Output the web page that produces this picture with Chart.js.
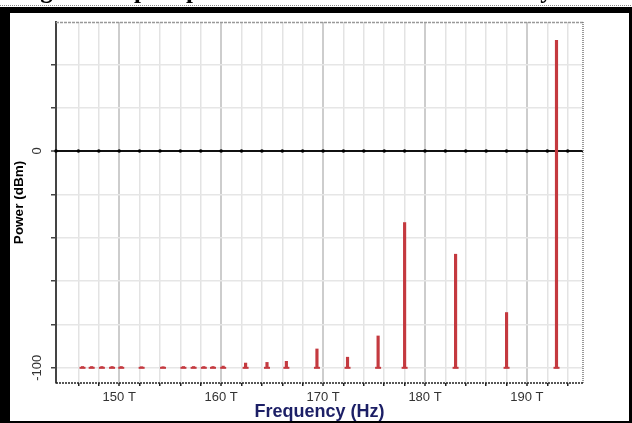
<!DOCTYPE html>
<html>
<head>
<meta charset="utf-8">
<script src="https://cdn.jsdelivr.net/npm/chart.js@4.4.0/dist/chart.umd.min.js"></script>
<style>
  html, body { margin: 0; padding: 0; background: #fff; }
  #wrap { width: 632px; height: 423px; }
</style>
</head>
<body>
<div id="wrap"><canvas id="spectrum" width="632" height="423"></canvas></div>
<script>
// channel / mixing product frequencies (THz) and their power (dBm)
const freqs = [146.4, 147.3, 148.3, 149.3, 150.2, 152.2, 154.3, 156.3, 157.3, 158.3, 159.2,
  160.2, 162.4, 164.5, 166.4, 169.4, 172.4, 175.4, 178.0, 183.0, 188.0, 192.9];
const power = [-99.4, -99.4, -99.4, -99.4, -99.4, -99.5, -99.5, -99.4, -99.4, -99.4, -99.4,
  -99.2, -97.8, -97.5, -97.0, -91.3, -95.1, -85.3, -33.0, -47.6, -74.5, 51.1];
const floorLevel = -100;

const gridFreqs = [146, 148, 150, 152, 154, 156, 158, 160, 162, 164, 166, 168, 170,
  172, 174, 176, 178, 180, 182, 184, 186, 188, 190, 192, 194];
const labelFreqs = [150, 160, 170, 180, 190];
const powerTicks = [-100, -80, -60, -40, -20, 0, 20, 40];
const powerLabels = [-100, 0];

const captionText = "Fig. 7: Output spectrum of the 8 channel WDM system";

const red = "#c4393f";

const framePlugin = {
  id: "frame",
  beforeDraw(chart) {
    const ctx = chart.ctx;
    ctx.save();
    ctx.fillStyle = "#fff";
    ctx.fillRect(0, 0, chart.width, chart.height);
    // caption of the page, cut off at the top
    ctx.fillStyle = "#000";
    ctx.font = 'bold 25px "Liberation Serif"';
    ctx.textBaseline = "alphabetic";
    ctx.fillText(captionText, 18, -2);
    ctx.strokeStyle = "#888";
    ctx.lineWidth = 1;
    ctx.setLineDash([1, 1]);
    ctx.beginPath();
    ctx.moveTo(0, 5.5);
    ctx.lineTo(chart.width, 5.5);
    ctx.stroke();
    ctx.setLineDash([]);
    // black box round the figure
    ctx.fillStyle = "#000";
    ctx.fillRect(0, 7, chart.width, 6);
    ctx.fillRect(0, 7, 10, chart.height - 7);
    ctx.fillRect(chart.width - 3, 7, 3, chart.height - 7);
    ctx.fillRect(0, chart.height - 2, chart.width, 2);
    ctx.restore();
  },
  beforeDatasetsDraw(chart) {
    const ctx = chart.ctx;
    const area = chart.chartArea;
    const x = chart.scales.x;
    const y = chart.scales.y;
    ctx.save();
    // top and right edges of the plot
    ctx.strokeStyle = "#999";
    ctx.lineWidth = 1.5;
    ctx.setLineDash([3, 1]);
    ctx.beginPath();
    ctx.moveTo(area.left, area.top + 0.5);
    ctx.lineTo(area.right, area.top + 0.5);
    ctx.stroke();
    ctx.setLineDash([1, 1]);
    ctx.strokeStyle = "#777";
    ctx.beginPath();
    ctx.moveTo(area.right, area.top);
    ctx.lineTo(area.right, area.bottom);
    ctx.stroke();
    // dotted frequency axis line
    ctx.strokeStyle = "#222";
    ctx.setLineDash([2, 1]);
    ctx.beginPath();
    ctx.moveTo(area.left, area.bottom);
    ctx.lineTo(area.right, area.bottom);
    ctx.stroke();
    ctx.setLineDash([]);
    // dots along the 0 dBm line
    const y0 = y.getPixelForValue(0);
    ctx.fillStyle = "#000";
    [x.min].concat(gridFreqs).forEach((f) => {
      ctx.beginPath();
      ctx.arc(x.getPixelForValue(f), y0, 1.8, 0, Math.PI * 2);
      ctx.fill();
    });
    ctx.restore();
  },
  afterDraw(chart) {
    const ctx = chart.ctx;
    const y = chart.scales.y;
    ctx.save();
    ctx.fillStyle = "#333";
    ctx.font = '13px "Liberation Sans"';
    ctx.textAlign = "center";
    ctx.textBaseline = "middle";
    powerLabels.forEach((v) => {
      ctx.save();
      ctx.translate(37, y.getPixelForValue(v));
      ctx.rotate(-Math.PI / 2);
      ctx.fillText(String(v), 0, 0);
      ctx.restore();
    });
    ctx.restore();
  },
};

new Chart(document.getElementById("spectrum"), {
  type: "bar",
  data: {
    datasets: [
      {
        label: "Power",
        data: freqs.map((f, i) => ({ x: f, y: [floorLevel, power[i]] })),
        backgroundColor: red,
        borderWidth: 0,
        barThickness: 2.5,
        grouped: false,
        order: 2,
      },
      {
        type: "scatter",
        label: "Base",
        data: freqs.map((f) => ({ x: f, y: floorLevel })),
        pointStyle: "line",
        pointRadius: 3,
        borderColor: red,
        borderWidth: 2,
        order: 1,
      },
    ],
  },
  options: {
    responsive: false,
    animation: false,
    devicePixelRatio: 1,
    layout: { padding: { left: 0, top: 22, right: 49, bottom: 0 } },
    plugins: {
      legend: { display: false },
      tooltip: { enabled: false },
    },
    scales: {
      x: {
        type: "linear",
        offset: false,
        min: 143.8,
        max: 195.5,
        afterBuildTicks: (scale) => {
          scale.ticks = gridFreqs.map((v) => ({ value: v }));
        },
        afterFit: (scale) => {
          scale.height = 40;
        },
        ticks: {
          autoSkip: false,
          maxRotation: 0,
          padding: 4,
          color: "#333",
          font: { family: "Liberation Sans", size: 13 },
          callback: (v) => (labelFreqs.includes(v) ? v + " T" : ""),
        },
        grid: {
          offset: false,
          color: (c) => (c.tick && c.tick.value % 10 === 0 ? "#cdcdcd" : "#e3e3e3"),
          lineWidth: (c) => (c.tick && c.tick.value % 10 === 0 ? 2 : 1.5),
          drawTicks: true,
          tickLength: 3,
          tickColor: "#222",
          tickWidth: 1.5,
        },
        border: { display: false },
        title: {
          display: true,
          text: "Frequency (Hz)",
          color: "#1c1f66",
          font: { family: "Liberation Sans", size: 18, weight: "bold", lineHeight: 1.1 },
          padding: { top: 0, bottom: 1 },
        },
      },
      y: {
        min: -107,
        max: 59.5,
        afterBuildTicks: (scale) => {
          scale.ticks = powerTicks.map((v) => ({ value: v }));
        },
        afterFit: (scale) => {
          scale.width = 56;
        },
        ticks: { display: false },
        grid: {
          color: (c) => (c.tick && c.tick.value === 0 ? "#111" : "#e6e6e6"),
          lineWidth: (c) => (c.tick && c.tick.value === 0 ? 2 : 1.5),
          drawTicks: true,
          tickLength: 5,
          tickColor: "#444",
          tickWidth: 1.5,
        },
        border: { display: true, color: "#444", width: 2 },
        title: {
          display: true,
          text: "Power (dBm)",
          color: "#000",
          font: { family: "Liberation Sans", size: 13.5, weight: "bold", lineHeight: 1.2 },
          padding: { top: 11, bottom: 0 },
        },
      },
    },
  },
  plugins: [framePlugin],
});
</script>
</body>
</html>
